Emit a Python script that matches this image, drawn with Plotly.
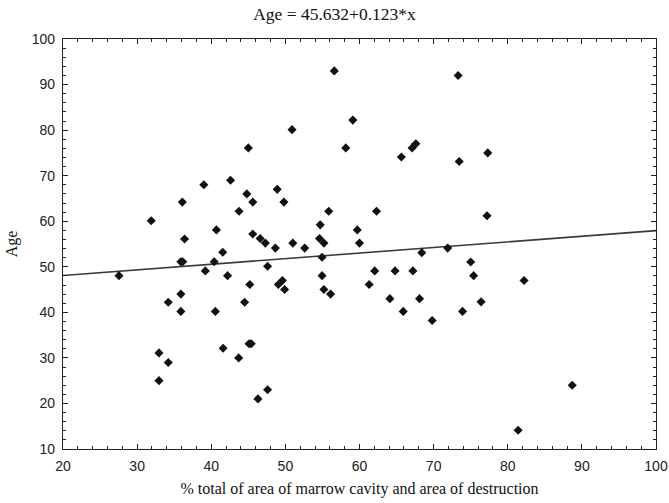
import plotly.graph_objects as go

# Data
pct_area = [45.0, 39.0, 42.6, 36.1, 44.8, 45.6, 43.75, 31.9, 40.7, 36.4, 45.6, 46.6,
            56.6, 59.1, 50.9, 58.15, 65.65, 67.1, 67.6, 48.9, 49.8, 55.85, 62.3, 54.7,
            59.7, 47.3, 48.65, 51.0, 52.6, 54.6, 55.2, 60.0,
            73.3, 73.45, 77.3, 77.2, 71.9,
            41.55, 35.9, 36.15, 40.4, 27.55, 39.2, 42.2, 45.2, 35.9, 34.2, 44.5, 35.9,
            40.55, 32.95, 41.6, 45.1, 45.4, 34.2, 43.7, 32.95, 46.3,
            54.95, 68.4, 47.6, 54.95, 62.05, 64.8, 67.2, 49.05, 49.6, 49.9, 55.2, 56.1,
            61.3, 64.1, 68.1, 65.9, 69.8, 47.6,
            75.0, 75.4, 82.2, 76.4, 73.9, 88.7, 81.4]
age = [76.1, 68.0, 69.0, 64.2, 66.0, 64.2, 62.2, 60.1, 58.1, 56.1, 57.2, 56.2,
       93.0, 82.2, 80.1, 76.1, 74.1, 76.1, 77.0, 67.0, 64.2, 62.2, 62.2, 59.2,
       58.1, 55.2, 54.1, 55.2, 54.1, 56.2, 55.2, 55.2,
       92.0, 73.1, 75.0, 61.2, 54.1,
       53.2, 51.1, 51.1, 51.1, 48.05, 49.1, 48.05, 46.1, 44.0, 42.2, 42.2, 40.2,
       40.2, 31.1, 32.1, 33.1, 33.1, 29.0, 30.0, 25.0, 21.0,
       52.1, 53.1, 50.1, 48.05, 49.1, 49.1, 49.1, 46.1, 47.0, 45.0, 45.0, 44.0,
       46.1, 43.0, 43.0, 40.2, 38.2, 23.0,
       51.05, 48.05, 47.0, 42.3, 40.2, 24.0, 14.1]

intercept = 45.632
slope = 0.123
x_range = [20, 100]
y_range = [10, 100]
fit_x = x_range
fit_y = [intercept + slope * v for v in fit_x]

title_text = "Age = 45.632+0.123*x"
x_title = "% total of area of marrow cavity and area of destruction"
y_title = "Age"

fig = go.Figure()
fig.add_trace(go.Scatter(x=fit_x, y=fit_y, mode="lines",
                         line=dict(color="#3a3a3a", width=1.6), showlegend=False,
                         hoverinfo="skip"))
fig.add_trace(go.Scatter(x=pct_area, y=age, mode="markers",
                         marker=dict(symbol="diamond", size=7, color="#111111",
                                     line=dict(width=0)),
                         showlegend=False))

axis_common = dict(showgrid=False, zeroline=False, showline=True, linecolor="#222",
                   linewidth=1.2, mirror="ticks", ticks="inside", ticklen=5,
                   tickcolor="#222", tickwidth=1, ticklabelstandoff=4, automargin=False,
                   tickfont=dict(family="Liberation Sans, Arial", size=14, color="#222"),
                   minor=dict(ticks="inside", dtick=2, ticklen=3, tickcolor="#222",
                              tickwidth=1))

serif = "Liberation Serif, Times New Roman"

fig.update_layout(
    width=669, height=503,
    margin=dict(l=63, r=13, t=39, b=54),
    paper_bgcolor="white", plot_bgcolor="white",
    title=dict(text=title_text, x=0.5, xanchor="center", y=0.972, yanchor="middle",
               font=dict(family=serif, size=17.5, color="#111")),
    xaxis=dict(range=x_range, dtick=10, tick0=20,
               title=dict(text=x_title, standoff=9,
                          font=dict(family=serif, size=16, color="#111")),
               **axis_common),
    yaxis=dict(range=y_range, dtick=10, tick0=10,
               title=dict(text=y_title, standoff=10,
                          font=dict(family=serif, size=16, color="#111")),
               **axis_common),
)

fig.write_html("out.html")
